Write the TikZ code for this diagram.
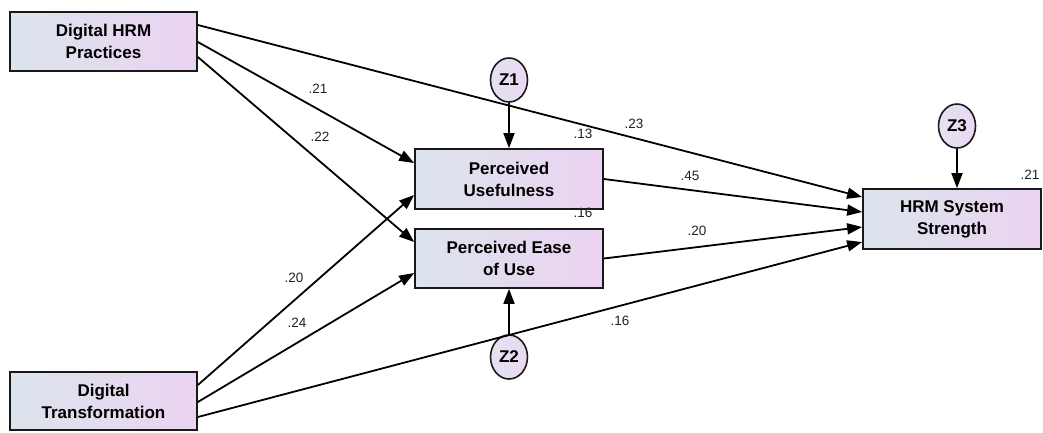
\documentclass[tikz,border=0pt]{standalone}
\usepackage{fontspec}
\setmainfont{Liberation Sans}
\usetikzlibrary{arrows.meta,shapes.geometric}
\definecolor{boxleft}{HTML}{DCE4EC}
\definecolor{boxright}{HTML}{EBD3F2}
\definecolor{ellleft}{HTML}{E2E2F2}
\definecolor{ellright}{HTML}{EAD8F2}
\definecolor{lbl}{HTML}{222222}
\tikzset{
  var/.style={draw=black!90, line width=1.7pt, left color=boxleft, right color=boxright,
    align=center, inner sep=0pt, font=\fontsize{17}{22}\selectfont\bfseries},
  err/.style={ellipse, draw=black!90, line width=1.6pt, left color=ellleft, right color=ellright,
    minimum width=37pt, minimum height=44pt, inner sep=0pt, font=\fontsize{17}{20}\selectfont\bfseries},
  path/.style={line width=1.8pt, -{Triangle[length=15pt,width=11pt]}},
  coef/.style={font=\fontsize{13.5}{15}\selectfont, text=lbl, inner sep=0pt},
}
\begin{document}
\begin{tikzpicture}[x=1pt,y=-1pt]
\useasboundingbox (0,0) rectangle (1043,432);
% variables
\node[var, minimum width=187pt, minimum height=59pt] (dh) at (103.5,41.5) {Digital HRM\\Practices};
\node[var, minimum width=187pt, minimum height=58pt] (dt) at (103.5,401) {Digital\\Transformation};
\node[var, minimum width=188pt, minimum height=60pt] (pu) at (509,179) {Perceived\\Usefulness};
\node[var, minimum width=188pt, minimum height=59pt] (pe) at (509,258.5) {Perceived Ease\\of Use};
\node[var, minimum width=178pt, minimum height=60pt] (hs) at (952,219) {HRM System\\Strength};
% errors
\node[err] (z1) at (509,80) {Z1};
\node[err] (z2) at (509,357) {Z2};
\node[err] (z3) at (957,126) {Z3};
% paths
\draw[path] ([yshift=16.5pt]dh.east) -- ([yshift=22pt]hs.west);
\draw[path] ([yshift=-0.5pt]dh.east) -- ([yshift=16pt]pu.west);
\draw[path] ([yshift=-15.5pt]dh.east) -- ([yshift=16.5pt]pe.west);
\draw[path] ([yshift=16pt]dt.east) -- ([yshift=-16pt]pu.west);
\draw[path] ([yshift=-1pt]dt.east) -- ([yshift=-14.5pt]pe.west);
\draw[path] ([yshift=-16pt]dt.east) -- ([yshift=-23pt]hs.west);
\draw[path] (pu.east) -- ([yshift=7pt]hs.west);
\draw[path] (pe.east) -- ([yshift=-8pt]hs.west);
\draw[path] (z1) -- (pu);
\draw[path] (z2) -- (pe);
\draw[path] (z3) -- (hs.north -| z3);
% coefficients
\node[coef] (c1) at (318,89) {.21};
\node[coef] (c2) at (320,137) {.22};
\node[coef] (c3) at (634,124) {.23};
\node[coef] (c4) at (583,134) {.13};
\node[coef] (c5) at (690,176) {.45};
\node[coef] (c6) at (583,213) {.16};
\node[coef] (c7) at (697,231) {.20};
\node[coef] (c8) at (294,278) {.20};
\node[coef] (c9) at (297,323) {.24};
\node[coef] (c10) at (620,321) {.16};
\node[coef] (c11) at (1030,175) {.21};
\end{tikzpicture}
\end{document}
